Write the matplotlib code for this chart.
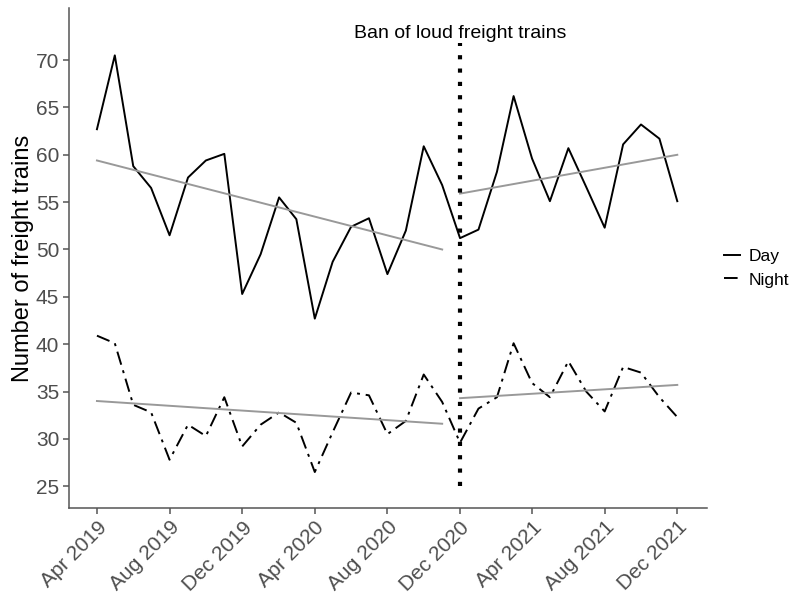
import matplotlib.pyplot as plt
import matplotlib.dates as mdates
import numpy as np
import pandas as pd
from datetime import datetime

plt.rcParams['font.family'] = ['Liberation Sans', 'DejaVu Sans']

months = pd.date_range('2019-04-01', '2021-12-01', freq='MS')

day = [62.7, 70.5, 58.8, 56.5, 51.5, 57.6, 59.4, 60.1, 45.3, 49.5,
       55.5, 53.2, 42.7, 48.7, 52.4, 53.3, 47.4, 52.0, 60.9, 56.8,
       51.2, 52.1, 58.2, 66.2, 59.6, 55.1, 60.7, 56.6, 52.3, 61.1,
       63.2, 61.7, 55.1]
night = [40.9, 40.1, 33.6, 32.8, 27.8, 31.5, 30.3, 34.4, 29.2, 31.5,
         32.8, 31.7, 26.5, 30.7, 34.9, 34.6, 30.5, 31.9, 36.8, 33.9,
         29.6, 33.2, 34.4, 40.1, 35.9, 34.4, 38.2, 35.0, 32.9, 37.6,
         37.0, 34.4, 32.3]

# trend line end values (pre / post ban)
day_trend_pre = [59.4, 50.0]
day_trend_post = [55.9, 60.0]
night_trend_pre = [34.0, 31.6]
night_trend_post = [34.3, 35.7]

ban_date = datetime(2020, 12, 1)
tick_dates = pd.date_range('2019-04-01', '2021-12-01', freq='4MS')

fig = plt.figure(figsize=(7.9, 5.93), dpi=100)
ax = fig.add_axes([0.0873, 0.1433, 0.8077, 0.8432])

ax.plot(months, day, color='black', lw=1.4, label='Day')
ax.plot(months, night, color='black', lw=1.4, dashes=(7, 3, 1.5, 3), label='Night')

pre = [months[0], months[19]]
post = [months[20], months[32]]
ax.plot(pre, day_trend_pre, color='#999999', lw=1.4)
ax.plot(post, day_trend_post, color='#999999', lw=1.4)
ax.plot(pre, night_trend_pre, color='#999999', lw=1.4)
ax.plot(post, night_trend_post, color='#999999', lw=1.4)

ax.plot([ban_date, ban_date], [25, 71.8], color='black', lw=3, linestyle=(0, (1, 2.2)))
ax.text(ban_date, 71.9, 'Ban of loud freight trains', ha='center', va='bottom', fontsize=14)

ax.set_xlim(datetime(2019, 2, 13), datetime(2022, 1, 20))
ax.set_ylim(22.7, 75.5)
ax.set_yticks([25, 30, 35, 40, 45, 50, 55, 60, 65, 70])
ax.set_xticks(tick_dates)
ax.xaxis.set_major_formatter(mdates.DateFormatter('%b %Y'))

for side in ['top', 'right']:
    ax.spines[side].set_visible(False)
for side in ['left', 'bottom']:
    ax.spines[side].set_color('#555555')
    ax.spines[side].set_linewidth(1.1)
ax.tick_params(colors='#555555', labelsize=15, length=4, width=1.1, pad=3)
plt.setp(ax.get_xticklabels(), rotation=45, ha='right', rotation_mode='anchor')
for lbl in ax.get_xticklabels() + ax.get_yticklabels():
    lbl.set_color('#4d4d4d')

ax.set_ylabel('Number of freight trains', fontsize=17, labelpad=1)

ax.legend(loc='center left', bbox_to_anchor=(1.0, 0.48), frameon=False,
          fontsize=12.5, handlelength=0.92, handletextpad=0.5,
          borderaxespad=0.6, labelspacing=0.5)

plt.savefig('out.png', dpi=100)
